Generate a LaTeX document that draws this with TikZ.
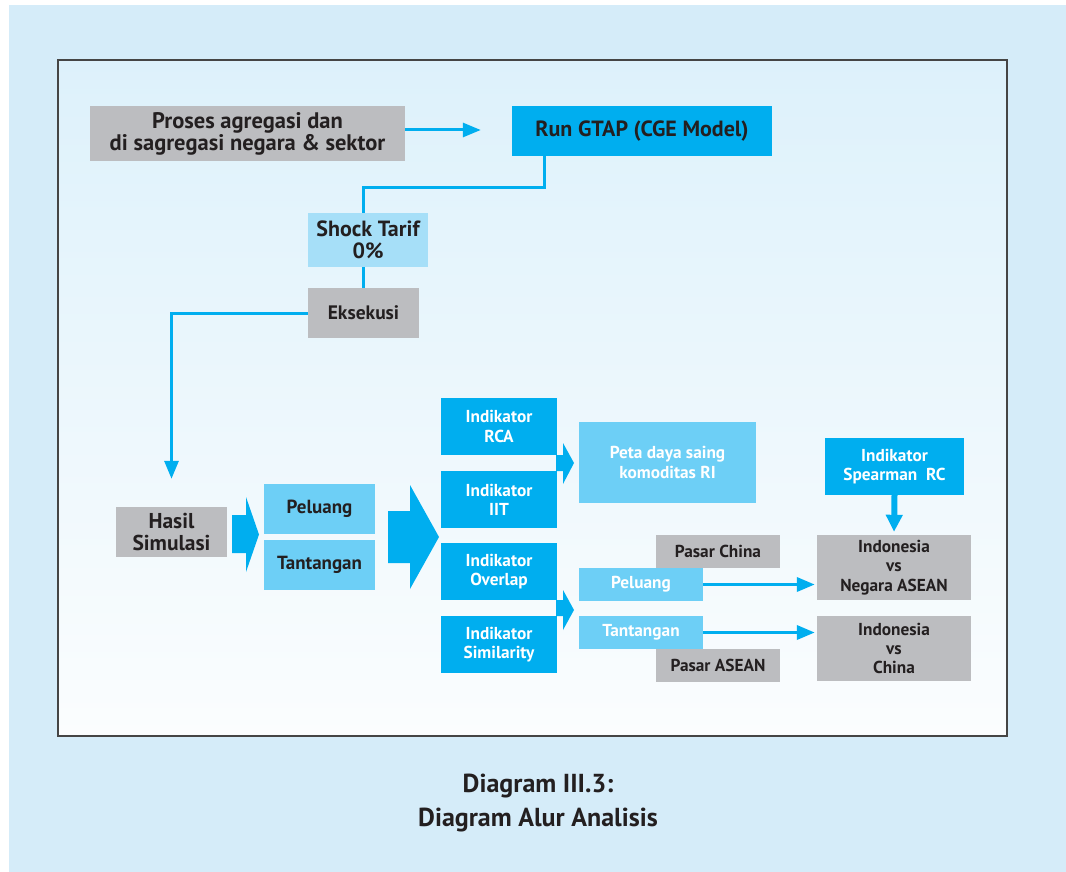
\documentclass[tikz,border=0pt]{standalone}
\usepackage{fontspec}
\setmainfont{PT Sans}
\usetikzlibrary{arrows.meta}
\definecolor{bgout}{HTML}{D5ECF9}
\definecolor{intop}{HTML}{DDF1FB}
\definecolor{inbot}{HTML}{FBFDFE}
\definecolor{frame}{HTML}{454545}
\definecolor{grayb}{HTML}{BCBDC0}
\definecolor{cyanb}{HTML}{00AEEF}
\definecolor{lcyan}{HTML}{6DCFF6}
\definecolor{pcyan}{HTML}{A6DFF8}
\definecolor{txt}{HTML}{231F20}
\tikzset{
  box/.style={inner sep=0pt, align=center, font=\bfseries, text=txt},
  gbox/.style={box, fill=grayb},
  cbox/.style={box, fill=cyanb},
  lbox/.style={box, fill=lcyan},
  wtext/.style={text=white},
  sz/.style 2 args={minimum width=#1pt, minimum height=#2pt},
  conn/.style={draw=cyanb, line width=3pt},
  arr/.style={conn, -{Triangle[length=18pt,width=14pt]}},
  blk/.style={fill=cyanb},
  fA/.style={font=\fontsize{22}{22}\selectfont\bfseries},
  fH/.style={font=\fontsize{21.5}{21.5}\selectfont\bfseries},
  fB/.style={font=\fontsize{19}{19}\selectfont\bfseries},
  fC/.style={font=\fontsize{17.3}{19.2}\selectfont\bfseries},
}
\begin{document}
\begin{tikzpicture}[x=1pt,y=-1pt]
\useasboundingbox (0,0) rectangle (1066,872);
\fill[white] (0,0) rectangle (1066,872);
\fill[bgout] (9,5) rectangle (1066,872);
\shade[top color=intop, bottom color=inbot] (58,60) rectangle (1007,736);
\draw[frame, line width=1.6pt] (58,60) rectangle (1007,736);

% nodes
\node[gbox, font=\fontsize{22.5}{22}\selectfont\bfseries, sz={315}{55}] (proses) at (247.5,133.5) {Proses agregasi dan\\di sagregasi negara \& sektor};
\node[cbox, fA, sz={260}{50}] (gtap) at (642,131) {Run GTAP (CGE Model)};
\node[box, fill=pcyan, fA, sz={120}{54}] (shock) at (368,240) {Shock Tarif\\0\%};
\node[gbox, font=\fontsize{19.5}{19}\selectfont\bfseries, sz={111}{50}] (eks) at (363.5,313) {Eksekusi};
\node[gbox, fH, sz={111}{50}] (hasil) at (171.5,532) {Hasil\\Simulasi};
\node[lbox, fB, sz={111}{50}] (pel1) at (319.5,509) {Peluang};
\node[lbox, fB, sz={111}{50}] (tan1) at (319.5,565) {Tantangan};
\node[cbox, wtext, fC, sz={116}{57}] (rca) at (499,426.5) {Indikator\\RCA};
\node[cbox, wtext, fC, sz={116}{57}] (iit) at (499,499.5) {Indikator\\IIT};
\node[cbox, wtext, fC, sz={116}{57}] (ovl) at (499,571.5) {Indikator\\Overlap};
\node[cbox, wtext, fC, sz={116}{57}] (sim) at (499,644.5) {Indikator\\Similarity};
\node[lbox, wtext, fC, sz={177}{81}] (peta) at (667.5,462.5) {Peta daya saing\\komoditas RI};
\node[gbox, fC, sz={124}{33}] (pchina) at (718,551.5) {Pasar China};
\node[lbox, wtext, fC, sz={124}{33}] (pel2) at (641,584.5) {Peluang};
\node[lbox, wtext, fC, sz={124}{33}] (tan2) at (641,632.5) {Tantangan};
\node[gbox, fC, sz={124}{33}] (pasean) at (718,665.5) {Pasar ASEAN};
\node[cbox, wtext, fC, sz={139}{57}] (spear) at (894.5,466.5) {Indikator\\Spearman\ \ RC};
\node[gbox, fC, sz={154}{65}] (indasean) at (894,567.5) {Indonesia\\vs\\Negara ASEAN};
\node[gbox, fC, sz={154}{65}] (indchina) at (894,648.5) {Indonesia\\vs\\China};

% connectors
\draw[arr, shorten >=31pt] (proses.east |- 0,130) -- (gtap.west |- 0,130);
\draw[conn] ([xshift=33pt]gtap.south west) -- ++(0,31) -| (shock.north -| eks.north);
\draw[conn] (shock.south -| eks.north) -- (eks.north);
\draw[arr, shorten >=28pt] (eks.west) -| (hasil.north);
\draw[arr, line width=3.5pt, shorten >=2pt] (pel2.east) -- (pel2.east -| indasean.west);
\draw[arr, line width=3.5pt, shorten >=2pt] (tan2.east) -- (tan2.east -| indchina.west);
\draw[arr, line width=6pt, -{Triangle[length=17pt,width=16pt]}, shorten >=3pt] (spear.south) -- (indasean.north);

% block arrows
\fill[blk] (232,515) -- (246,515) -- (246,497) -- (259,534.5) -- (246,572) -- (246,553) -- (232,553) -- cycle;
\fill[blk] (388,511) -- (410,511) -- (410,485) -- (439,537) -- (410,589) -- (410,563) -- (388,563) -- cycle;
\fill[blk] (556,455) -- (563,455) -- (563,443) -- (574,463) -- (563,484) -- (563,471) -- (556,471) -- cycle;
\fill[blk] (556,600) -- (563,600) -- (563,590) -- (574,610) -- (563,630) -- (563,616) -- (556,616) -- cycle;

% caption
\node[box, font=\fontsize{26}{34}\selectfont\bfseries] (cap) at (538,803) {Diagram III.3:\\Diagram Alur Analisis};
\end{tikzpicture}
\end{document}
